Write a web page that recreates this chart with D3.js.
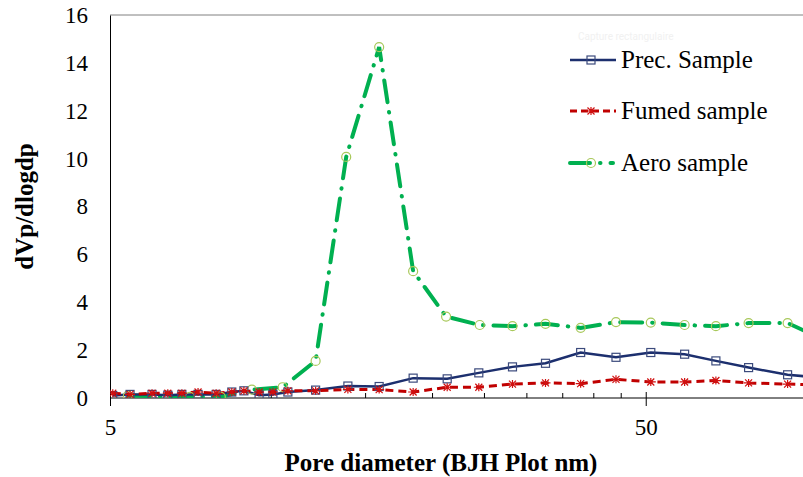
<!DOCTYPE html>
<html>
<head>
<meta charset="utf-8">
<script src="https://cdn.jsdelivr.net/npm/d3@7"></script>
<style>
  body { margin: 0; background: #fff; }
  text { font-family: "Liberation Serif", "Times New Roman", serif; }
</style>
</head>
<body>
<div id="wrapper"></div>
<script>
// data
const precD = [5.06, 5.45, 5.99, 6.41, 6.81, 7.30, 7.89, 8.44, 8.89, 9.49, 10.07, 10.74, 12.1, 13.9, 15.9, 18.4, 21.3, 24.4, 28.2, 32.5, 37.8, 44.0, 51.1, 59.1, 67.6, 77.8, 92.0, 106]
const precV = [0.10, 0.15, 0.15, 0.12, 0.15, 0.15, 0.15, 0.25, 0.30, 0.12, 0.15, 0.25, 0.33, 0.50, 0.48, 0.83, 0.80, 1.05, 1.30, 1.45, 1.90, 1.70, 1.90, 1.83, 1.55, 1.27, 0.97, 0.85]

const fumedD = precD
const fumedV = [0.20, 0.15, 0.20, 0.20, 0.20, 0.25, 0.20, 0.25, 0.30, 0.25, 0.25, 0.30, 0.30, 0.36, 0.35, 0.25, 0.45, 0.45, 0.58, 0.63, 0.60, 0.78, 0.67, 0.67, 0.73, 0.63, 0.58, 0.55]

const aeroD = [5.40, 7.05, 8.05, 9.2, 10.5, 12.1, 13.8, 15.9, 18.4, 21.2, 24.5, 28.2, 32.5, 37.8, 44.0, 51.1, 59.1, 67.6, 77.8, 92.0, 106]
const aeroV = [0.10, 0.05, 0.05, 0.35, 0.45, 1.55, 10.07, 14.66, 5.30, 3.40, 3.05, 3.00, 3.10, 2.93, 3.17, 3.15, 3.05, 3.00, 3.13, 3.13, 2.5]

const xTicksMajor = [5, 50]
const xTicksMinor = [10, 15, 20, 25, 30, 35, 40, 45]
const yTicks = [0, 2, 4, 6, 8, 10, 12, 14, 16]

const seriesNames = ["Prec. Sample", "Fumed sample", "Aero sample"]

function drawChart() {
    const dims = {
        width: 803,
        height: 477,
        left: 110,
        top: 15,
        bottom: 398,
        right: 807
    }

    const svg = d3.select("#wrapper")
        .append("svg")
        .attr("width", dims.width)
        .attr("height", dims.height)

    const xScale = d3.scaleLog()
        .domain([5, 100])
        .range([dims.left, dims.right])

    const yScale = d3.scaleLinear()
        .domain([0, 16])
        .range([dims.bottom, dims.top])

    svg.append("defs").append("clipPath")
        .attr("id", "plot-clip")
        .append("rect")
        .attr("x", dims.left)
        .attr("y", dims.top - 5)
        .attr("width", dims.width - dims.left)
        .attr("height", dims.bottom - dims.top + 5)

    // faint screenshot artefact
    svg.append("text")
        .attr("x", 578)
        .attr("y", 40)
        .attr("font-size", 10)
        .attr("fill", "#f1f1f1")
        .style("font-family", "Roboto, sans-serif")
        .text("Capture rectangulaire")

    // top frame line
    svg.append("line")
        .attr("x1", dims.left).attr("x2", dims.width)
        .attr("y1", dims.top).attr("y2", dims.top)
        .attr("stroke", "#808080")
        .attr("stroke-width", 1)

    // y axis
    const yAxis = svg.append("g")
        .attr("transform", `translate(${dims.left},0)`)
        .call(d3.axisLeft(yScale).tickValues(yTicks).tickSize(0).tickPadding(22))
    yAxis.select(".domain").attr("stroke", "#000")
    yAxis.selectAll("text")
        .attr("font-size", 23)
        .attr("fill", "#000")
        .style("font-family", "'Liberation Serif', serif")

    // x axis
    const xAxis = svg.append("g")
        .attr("transform", `translate(0,${dims.bottom})`)
        .call(d3.axisBottom(xScale).tickValues(xTicksMajor).tickFormat(d3.format("d")).tickSize(8).tickPadding(13).tickSizeOuter(0))
    xAxis.select(".domain").attr("stroke", "#000").attr("d", `M${dims.left},0H${dims.width}`)
    xAxis.selectAll(".tick line").attr("y1", -6).attr("y2", 8).attr("stroke", "#000")
    xAxis.selectAll("text")
        .attr("font-size", 23)
        .attr("fill", "#000")
        .style("font-family", "'Liberation Serif', serif")

    svg.append("g")
        .selectAll("line")
        .data(xTicksMinor)
        .join("line")
        .attr("x1", d => xScale(d)).attr("x2", d => xScale(d))
        .attr("y1", dims.bottom - 5).attr("y2", dims.bottom)
        .attr("stroke", "#000")

    // axis titles
    svg.append("text")
        .attr("x", 441)
        .attr("y", 471)
        .attr("text-anchor", "middle")
        .attr("font-size", 25)
        .attr("font-weight", "bold")
        .text("Pore diameter (BJH Plot nm)")

    svg.append("text")
        .attr("transform", `translate(33,${(dims.top + dims.bottom) / 2}) rotate(-90)`)
        .attr("text-anchor", "middle")
        .attr("font-size", 25)
        .attr("font-weight", "bold")
        .text("dVp/dlogdp")

    // series
    const plot = svg.append("g").attr("clip-path", "url(#plot-clip)")
    const line = d3.line()
        .x(d => xScale(d[0]))
        .y(d => yScale(d[1]))

    const prec = d3.zip(precD, precV)
    const fumed = d3.zip(fumedD, fumedV)
    const aero = d3.zip(aeroD, aeroV)

    const styles = [
        { color: "#1c2f6e", width: 2.5, dash: null, cap: "butt" },
        { color: "#c00000", width: 3, dash: "8,5", cap: "butt" },
        { color: "#00b050", width: 4, dash: "22,10,0.5,10", cap: "round" }
    ]

    plot.append("path")
        .datum(aero)
        .attr("d", line)
        .attr("fill", "none")
        .attr("stroke", styles[2].color)
        .attr("stroke-width", styles[2].width)
        .attr("stroke-dasharray", styles[2].dash)
        .attr("stroke-linecap", styles[2].cap)

    plot.append("path")
        .datum(prec)
        .attr("d", line)
        .attr("fill", "none")
        .attr("stroke", styles[0].color)
        .attr("stroke-width", styles[0].width)

    plot.append("path")
        .datum(fumed)
        .attr("d", line)
        .attr("fill", "none")
        .attr("stroke", styles[1].color)
        .attr("stroke-width", styles[1].width)
        .attr("stroke-dasharray", styles[1].dash)

    // markers
    const square = (g, x, y) => g.append("rect")
        .attr("x", x - 4).attr("y", y - 4)
        .attr("width", 8).attr("height", 8)
        .attr("fill", "none")
        .attr("stroke", "#3b4a7c")
        .attr("stroke-width", 1.2)

    const star = (g, x, y) => g.append("path")
        .attr("d", `M${x - 5},${y}H${x + 5}M${x - 3.5},${y - 3.5}L${x + 3.5},${y + 3.5}M${x - 3.5},${y + 3.5}L${x + 3.5},${y - 3.5}M${x},${y - 4}V${y + 4}`)
        .attr("stroke", "#d01010")
        .attr("stroke-width", 1.2)

    const circle = (g, x, y) => g.append("circle")
        .attr("cx", x).attr("cy", y).attr("r", 4.5)
        .attr("fill", "none")
        .attr("stroke", "#a8c85a")
        .attr("stroke-width", 1.2)

    aero.forEach(d => circle(plot, xScale(d[0]), yScale(d[1])))
    prec.forEach(d => square(plot, xScale(d[0]), yScale(d[1])))
    fumed.forEach(d => star(plot, xScale(d[0]), yScale(d[1])))

    // legend
    const legendY = [60, 111, 163]
    const markers = [square, star, circle]
    const legend = svg.append("g")
    seriesNames.forEach((name, i) => {
        const s = styles[i]
        legend.append("line")
            .attr("x1", 570).attr("x2", i === 2 ? 613 : 616)
            .attr("y1", legendY[i]).attr("y2", legendY[i])
            .attr("stroke", s.color)
            .attr("stroke-width", s.width)
            .attr("stroke-dasharray", i === 1 ? "7,4" : (i === 2 ? "20,10,0.5,10" : null))
            .attr("stroke-linecap", s.cap)
        markers[i](legend, 591, legendY[i])
        legend.append("text")
            .attr("x", 621)
            .attr("y", legendY[i] + 8)
            .attr("font-size", 25)
            .attr("fill", "#000")
            .text(name)
    })
}

drawChart()
</script>
</body>
</html>
